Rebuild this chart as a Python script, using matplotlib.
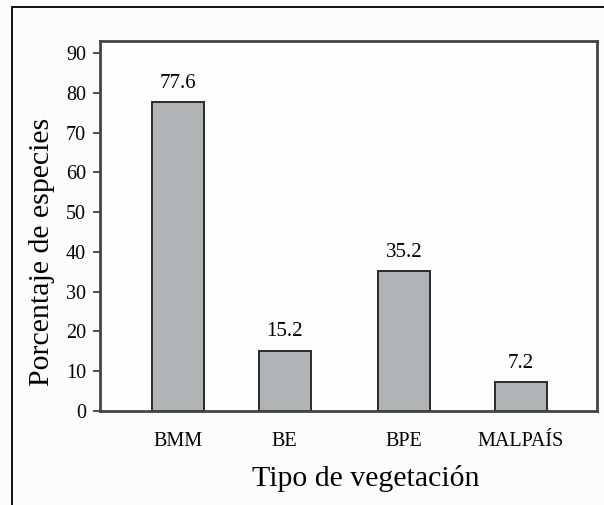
import matplotlib.pyplot as plt
from matplotlib.patches import Rectangle

# datos
tipos = ["BMM", "BE", "BPE", "MALPAÍS"]
porcentajes = [77.6, 15.2, 35.2, 7.2]
posiciones = [0, 0.91, 1.93, 2.93]
yticks = [0, 10, 20, 30, 40, 50, 60, 70, 80, 90]

plt.rcParams['font.family'] = ['Liberation Serif', 'DejaVu Serif']

fig = plt.figure(figsize=(6.04, 5.05), dpi=100)
fig.patch.set_facecolor("#fcfcfb")

# marco exterior (cortado a la derecha y abajo)
fig.patches.append(Rectangle((12 / 604, -0.1), 1.2, (505 - 7) / 505 + 0.1,
                             transform=fig.transFigure, fill=False,
                             edgecolor="black", linewidth=1.3))

ax = fig.add_axes([100 / 604, (505 - 411) / 505, 497 / 604, 370 / 505])
ax.set_facecolor("#fdfdfc")

ax.bar(posiciones, porcentajes, width=0.444, color="#b1b4b7",
       edgecolor="#2b2b2b", linewidth=1.4)

for x, v in zip(posiciones, porcentajes):
    ax.text(x, v + 2.3, f"{v}", ha="center", va="bottom", fontsize=15)

ax.set_xlim(-0.667, 3.58)
ax.set_ylim(0, 93)
ax.set_yticks(yticks)
ax.set_xticks(posiciones)
ax.set_xticklabels(tipos)
ax.tick_params(axis="x", length=0, pad=15, labelsize=14.5)
ax.tick_params(axis="y", length=5, width=1.3, color="#404040", pad=5, labelsize=14.5)

for s in ax.spines.values():
    s.set_linewidth(2)
    s.set_color("#444444")

ax.set_ylabel("Porcentaje de especies", fontsize=21.5, labelpad=8)
ax.set_xlabel("Tipo de vegetación", fontsize=21.5, labelpad=10)
# las etiquetas no estan centradas en el original
ax.yaxis.label.set_y(0.43)
ax.xaxis.label.set_x(0.535)

fig.savefig("out.png", dpi=100, facecolor=fig.get_facecolor())
